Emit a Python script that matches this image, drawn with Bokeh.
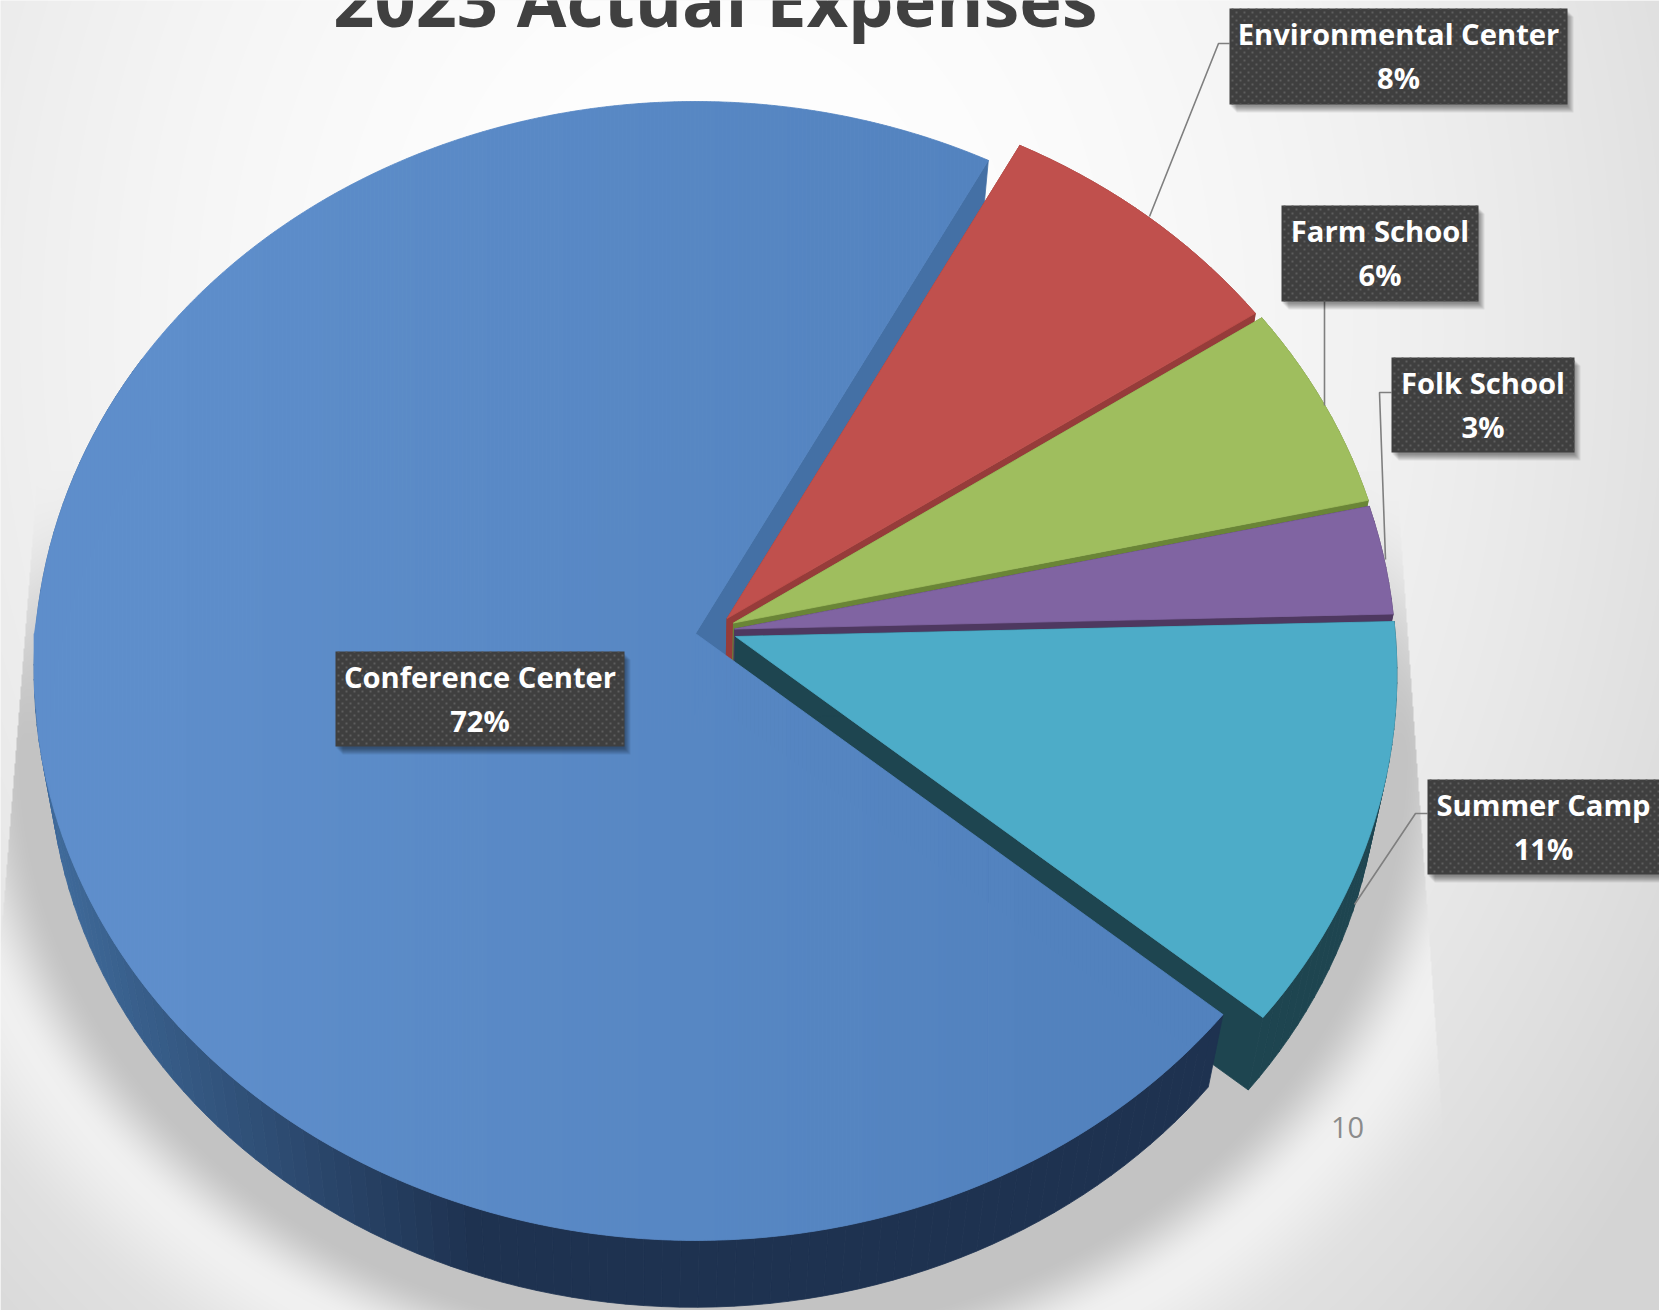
import numpy as np
from bokeh.plotting import figure
from bokeh.embed import file_html
from bokeh.resources import INLINE
from bokeh.core.properties import value
from bokeh.models import Range1d

title_text = "2023 Actual Expenses"
page_number = "10"
categories = ["Environmental Center", "Farm School", "Folk School", "Summer Camp", "Conference Center"]
shares = [7.8, 5.9, 3.1, 11.55, 71.65]
share_labels = ["8%", "6%", "3%", "11%", "72%"]
face_colors = ["#C0504D", "#9FBE5E", "#8064A2", "#4DACC8", "#5685C1"]
wall_colors = ["#963C3A", "#6A8537", "#4E3860", "#1E4550", "#1E3250"]
first_angle = 28.0

W, H = 1659, 1310
A, B, K = 660.0, 567.0, 0.0658
SCALE_DOWN, DEPTH_X, DEPTH_Y = 0.975, -1.5, 82.0
centers = [(726.5, 618), (733, 622.5), (734, 628.5), (735, 636), (695, 633)]
boxes = [(1229, 1567, 8, 104), (1281, 1478, 205, 301), (1391, 1574, 357, 452),
         (1427, 1659, 779, 874), (335, 624, 651, 746)]
leaders = [([1229, 1218, 1149], [43, 43, 216]),
           ([1324, 1324], [301, 405]),
           ([1391, 1379, 1385], [392, 392, 559]),
           ([1427, 1415, 1354], [813, 813, 904])]


def Y(y):
    return H - np.asarray(y, dtype=float)


def proj(c, s, deg):
    t = np.radians(deg)
    u, v = np.sin(t), -np.cos(t)
    w = 1 - K * v
    return c[0] + s * A * u / w, c[1] + s * B * v / w


def lerp_hex(a, b, t):
    t = float(np.clip(t, 0, 1))
    ca = [int(a[i:i + 2], 16) for i in (1, 3, 5)]
    cb = [int(b[i:i + 2], 16) for i in (1, 3, 5)]
    return "#%02x%02x%02x" % tuple(round(x + (y - x) * t) for x, y in zip(ca, cb))


def smooth(a, b, x):
    t = np.clip((x - a) / (b - a), 0, 1)
    return t * t * (3 - 2 * t)


# ---- background + soft shadow as a raster
yy, xx = np.mgrid[0:H, 0:W].astype(float)
r = np.hypot(xx - 720, (yy - 330) * 0.8)
bg = 255 - 43 * np.clip(r / 1150, 0, 1.0) ** 2

rho = np.hypot((xx - 712) / 660, (yy - 750) / 560)
dist = (rho - 1) * 600
sh = 1 - smooth(25, 95, dist)
sh *= smooth(450, 760, yy)
left_edge = 37 - (yy - 470) * 37 / 470
right_edge = 1396 + (yy - 480) * 34 / 480
inside = (xx > left_edge) & (xx < right_edge) & (yy > 470)
lifted = np.minimum(bg + 12 * smooth(600, 900, yy) * (1 - smooth(95, 190, dist)), 240)
bg2 = np.where(inside, lifted + (0xC3 - lifted) * sh, bg)
g = np.clip(bg2, 0, 255).astype(np.uint32)
img = (255 << 24) | (g << 16) | (g << 8) | g

p = figure(width=W, height=H, x_range=Range1d(0, W), y_range=Range1d(0, H),
           output_backend="svg", toolbar_location=None, min_border=0,
           outline_line_color=None, background_fill_color="#f4f4f4", border_fill_color=None)
p.axis.visible = False
p.grid.visible = False
p.styles = {"position": "absolute", "left": "0px", "top": "0px"}
p.image_rgba(image=[img[::-1]], x=0, y=0, dw=W, dh=H)

# ---- pie, as polygons
ends = np.cumsum(shares) * 3.6 + first_angle
starts = ends - np.array(shares) * 3.6
pxs, pys, pcs = [], [], []


def add(xs, ys, col):
    pxs.append(list(xs))
    pys.append(list(Y(ys)))
    pcs.append(col)


# inner wall of the big slice, seen behind the exploded slices
c = centers[4]
cb = (c[0] + DEPTH_X, c[1] + DEPTH_Y)
x1, y1 = proj(c, 1, first_angle)
x2, y2 = proj(cb, SCALE_DOWN, first_angle)
add([c[0], x1, x2, cb[0]], [c[1], y1, y2, cb[1]], "#4470A5")

for i in range(5):
    c = centers[i]
    cb = (c[0] + DEPTH_X, c[1] + DEPTH_Y)
    a0, a1 = starts[i], ends[i]
    if i == 4:
        a1b = 300.0
    else:
        a1b = a1
    n = max(6, int((a1b - a0) / 1.5))
    th = np.linspace(a0, a1b, n + 1)
    tx, ty = proj(c, 1, th)
    bx, by = proj(cb, SCALE_DOWN, th)
    # outer wall
    for j in range(n):
        col = wall_colors[i]
        if i == 4:
            col = lerp_hex("#3F6A9A", "#1E3250", (tx[j] - 50) / 430)
        add([tx[j], tx[j + 1], bx[j + 1], bx[j]], [ty[j], ty[j + 1], by[j + 1], by[j]], col)
    if i != 4:
        # cut walls of an exploded slice
        add([c[0], tx[-1], bx[-1], cb[0]], [c[1], ty[-1], by[-1], cb[1]], wall_colors[i])
        add([c[0], cb[0], bx[0], tx[0]], [c[1], cb[1], by[0], ty[0]], wall_colors[i])
        add([c[0], *tx], [c[1], *ty], face_colors[i])
    else:
        # top face of the big slice, in thin vertical strips so the shading runs left to right
        uth = np.linspace(270, a1, 500)
        lth = np.linspace(270, a0, 500)
        ux, uy = proj(c, 1, uth)
        lx, ly = proj(c, 1, lth)
        xmin = min(ux.min(), lx.min())
        iu = np.argmin(ux)
        il = np.argmin(lx)
        ux, uy = ux[iu:], uy[iu:]
        lx, ly = lx[il:], ly[il:]
        cuts = np.unique(np.concatenate([np.arange(np.ceil(xmin), lx[-1], 4.0),
                                         [xmin, c[0], ux[-1], lx[-1]]]))
        fu = lambda x: np.interp(x, ux, uy)
        fl = lambda x: np.interp(x, lx, ly)
        e1 = lambda x: c[1] + (x - c[0]) / (ux[-1] - c[0]) * (uy[-1] - c[1])
        e2 = lambda x: c[1] + (x - c[0]) / (lx[-1] - c[0]) * (ly[-1] - c[1])
        for xa, xb in zip(cuts[:-1], cuts[1:]):
            col = lerp_hex("#5E8ECB", "#5282BE", ((xa + xb) / 2 - 150) / 900)
            if xb <= c[0]:
                add([xa, xb, xb, xa], [fu(xa), fu(xb), fl(xb), fl(xa)], col)
            else:
                if xb <= ux[-1]:
                    add([xa, xb, xb, xa], [fu(xa), fu(xb), e1(xb), e1(xa)], col)
                add([xa, xb, xb, xa], [e2(xa), e2(xb), fl(xb), fl(xa)], col)

p.patches(pxs, pys, fill_color=pcs, line_color=pcs, line_width=0.8)

# ---- leader lines
for lx_, ly_ in leaders:
    p.line(lx_, list(Y(ly_)), line_color="#7F7F7F", line_width=1.6)

# ---- label boxes
for x0, x1, y0, y1 in boxes:
    for k in (8, 7, 6, 5, 4, 3, 2):
        p.quad(left=x0 + k - 1, right=min(x1 + k - 2, W), top=H - (y0 + k), bottom=H - (y1 + k),
               fill_color="#000000", fill_alpha=0.07, line_color=None)
    p.quad(left=x0, right=x1, top=H - y0, bottom=H - y1, fill_color="#3F3F3F", line_color=None)
    w, h = x1 - x0, y1 - y0
    dots = np.zeros((h, w), dtype=np.uint32)
    for ry in range(0, h):
        for rx in range(0, w):
            row = (ry + 1) // 4
            if (ry + 1) % 4 < 2 and (rx + (row % 2) * 4) % 8 in (2, 3):
                dots[ry, rx] = (255 << 24) | (0x5E << 16) | (0x5E << 8) | 0x5E
    p.image_rgba(image=[dots[::-1]], x=x0, y=H - y1, dw=w, dh=h)

font = value("Open Sans")
for (x0, x1, y0, y1), name, lab in zip(boxes, categories, share_labels):
    xc = (x0 + x1) / 2
    p.text([xc], [H - (y0 + 25.5)], text=[name], text_font=font, text_font_style="bold",
           text_font_size="29.2px", text_color="#FFFFFF", text_align="center", text_baseline="middle")
    p.text([xc], [H - (y0 + 69)], text=[lab], text_font=font, text_font_style="bold",
           text_font_size="29.2px", text_color="#FFFFFF", text_align="center", text_baseline="middle")

p.text([715], [H + 2], text=[title_text], text_font=font, text_font_style="bold",
       text_font_size="72px", text_color="#404040", text_align="center", text_baseline="alphabetic")
p.text([1347], [H - 1127], text=[page_number], text_font=font, text_font_size="29px",
       text_color="#8B8B8B", text_align="center", text_baseline="middle")

open("out.html", "w").write(file_html(p, INLINE))
